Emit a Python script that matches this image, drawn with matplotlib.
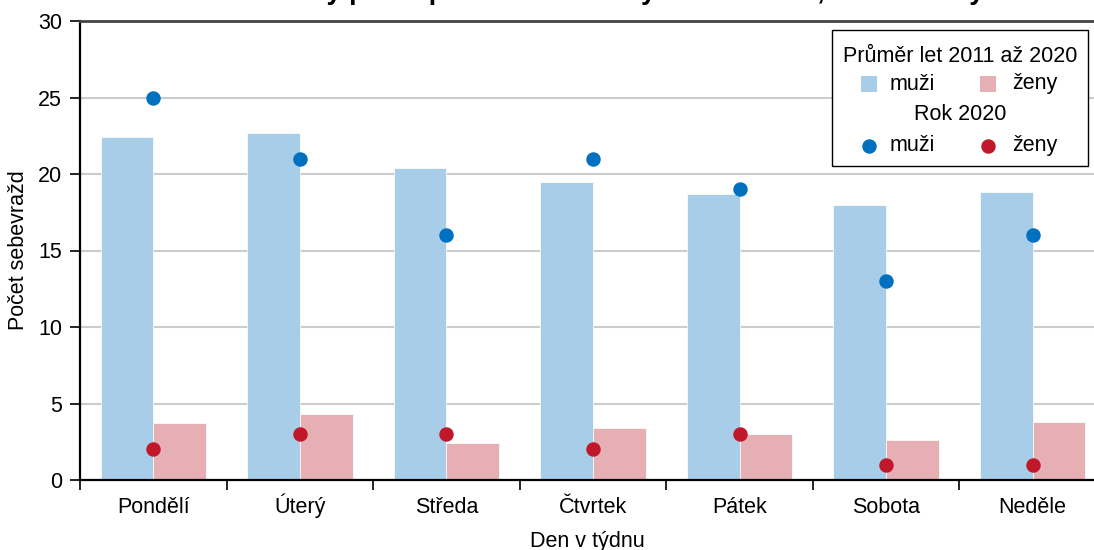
import numpy as np
import matplotlib
matplotlib.use('Agg')
import matplotlib.pyplot as plt
from matplotlib.patches import Rectangle

plt.rcParams['font.family'] = ['Liberation Sans', 'DejaVu Sans']
plt.rcParams['font.size'] = 15.5

# Datos
dny = ['Pondělí', 'Úterý', 'Středa', 'Čtvrtek', 'Pátek', 'Sobota', 'Neděle']
prumer_muzi = [22.4, 22.7, 20.4, 19.5, 18.7, 18.0, 18.8]
prumer_zeny = [3.7, 4.3, 2.4, 3.4, 3.0, 2.6, 3.8]
rok2020_muzi = [25, 21, 16, 21, 19, 13, 16]
rok2020_zeny = [2, 3, 3, 2, 3, 1, 1]
y_ticks = [0, 5, 10, 15, 20, 25, 30]

c_bar_m = '#a8cde8'
c_bar_z = '#e6afb3'
c_dot_m = '#0070c0'
c_dot_z = '#c0182a'

W, H = 1094, 550


def fx(px):
    return px / W


def fy(py):
    return 1 - py / H


fig = plt.figure(figsize=(W / 100, H / 100), dpi=100)
ax = fig.add_axes([fx(80), fy(480), (1106 - 80) / W, (480 - 21) / H])

x = np.arange(len(dny))
bw = 0.36
ax.bar(x - bw / 2, prumer_muzi, bw, color=c_bar_m, edgecolor='white', linewidth=0.5, zorder=2)
ax.bar(x + bw / 2, prumer_zeny, bw, color=c_bar_z, edgecolor='white', linewidth=0.5, zorder=2)
ax.plot(x, rok2020_muzi, 'o', color=c_dot_m, markersize=9.4, zorder=3)
ax.plot(x, rok2020_zeny, 'o', color=c_dot_z, markersize=9.4, zorder=3)

ax.set_xlim(-0.5, 6.5)
ax.set_ylim(0, 30)
ax.set_yticks(y_ticks)
ax.set_xticks(x)
ax.set_xticklabels(dny)
for lab in ax.get_xticklabels():
    lab.set_va('baseline')
ax.set_xticks(np.arange(-0.5, 7, 1), minor=True)
ax.tick_params(axis='x', which='major', length=0, pad=23.5)
ax.tick_params(axis='x', which='minor', length=7, width=1.2, direction='out')
ax.tick_params(axis='y', length=7, width=1.2, direction='out', pad=6)

ax.yaxis.grid(True, color='#cccccc', linewidth=1.5, zorder=0)
ax.set_axisbelow(True)
ax.spines['right'].set_visible(False)
ax.spines['top'].set_color('#444444')
ax.spines['top'].set_linewidth(2)
ax.spines['left'].set_linewidth(1.6)
ax.spines['bottom'].set_linewidth(1.6)

ax.set_ylabel('Počet sebevražd', labelpad=6)
fig.text(fx(587), fy(541), 'Den v týdnu', ha='center', va='center')

# Titulo (cortado arriba, como en la referencia)
fig.text(fx(588), fy(-1), 'Sebevraždy podle pohlaví a dne v týdnu v Česku, muži a ženy',
         ha='center', va='baseline', fontsize=19.5, fontweight='bold')

# Leyenda manual
ax.add_patch(Rectangle((fx(832), fy(166)), fx(1088) - fx(832), fy(30) - fy(166),
                       transform=fig.transFigure, facecolor='white', edgecolor='black',
                       linewidth=1, zorder=5, clip_on=False))
fig.text(fx(960), fy(57), 'Průměr let 2011 až 2020', ha='center', va='center', zorder=6)
fig.text(fx(960), fy(115), 'Rok 2020', ha='center', va='center', zorder=6)
for xx, c in [(869, c_bar_m), (988, c_bar_z)]:
    ax.add_patch(Rectangle((fx(xx - 8), fy(92)), 16 / W, 16 / H, transform=fig.transFigure,
                           facecolor=c, edgecolor='none', zorder=6, clip_on=False))
for xx, c in [(869, c_dot_m), (988, c_dot_z)]:
    ax.plot([fx(xx)], [fy(146)], 'o', color=c, markersize=9.4, transform=fig.transFigure,
            clip_on=False, zorder=6)
for yy in [84, 146]:
    fig.text(fx(890), fy(yy), 'muži', ha='left', va='center', zorder=6)
    fig.text(fx(1012), fy(yy), 'ženy', ha='left', va='center', zorder=6)

plt.savefig('out.png', dpi=100)
